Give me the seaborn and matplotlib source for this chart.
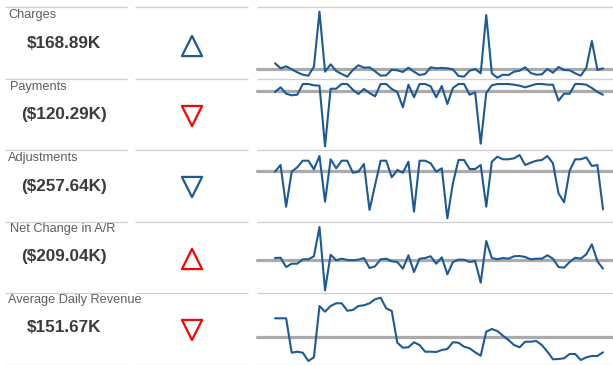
import matplotlib
matplotlib.use("Agg")
import matplotlib.pyplot as plt
import seaborn as sns
import numpy as np
import pandas as pd

# ---------------- data ----------------
metrics = ["Charges", "Payments", "Adjustments", "Net Change in A/R", "Average Daily Revenue"]
totals = ["$168.89K", "($120.29K)", "($257.64K)", "($209.04K)", "$151.67K"]
trend_dir = ["up", "down", "down", "up", "down"]
trend_good = [True, False, True, False, False]

days = list(range(60))

charges = [15.7, 10.7, 12.7, 9.7, 6.7, 4.3, 3.3, 12.3, 67.3, 7.3, 14.7, 8, 5, 2.3, 9, 13.7, 11.3, 11.7, 7.7, 3.3,
           3.7, 9.3, 8.7, 7, 11.3, 7.3, 4, 5, 11.7, 10.7, 11, 10.7, 9.7, 3, 2.3, 8.3, 10, 5.7, 64, 5.7,
           1.3, 4.3, 4, 7.3, 8.3, 11.7, 6, 4.3, 4.7, 10, 6.3, 12, 9, 8.7, 5.7, 3.3, 11.3, 38, 9, 10.7]
payments = [-13, -8.3, -14.7, -16.3, -15.7, -5, -5, -6.3, -6.7, -67.3, -9.7, -9.7, -5, -5, -10.7, -15, -10, -14, -17.3, -5,
            -5, -10, -13, -28.3, -5.7, -18.3, -5, -5, -7.3, -18.3, -7, -25, -9, -5, -5, -15.7, -13.3, -64.7, -14, -6.3,
            -5, -5, -5, -5.7, -6.7, -8.3, -6.7, -5, -5, -5.7, -5.7, -21.7, -14.7, -14.7, -5, -5, -5.7, -9, -13, -15.7]
adjustments = [-21.7, -15, -56.7, -21.7, -17.3, -10.7, -10.7, -19.3, -6, -51.7, -9.3, -18.3, -10.7, -10.7, -22.7, -21.7, -14, -60, -35, -10.7,
               -10.7, -27.3, -20, -22.7, -11.7, -61.7, -10.7, -10.7, -13.3, -21.7, -18.3, -68.3, -33.3, -10, -10, -19, -19, -15, -56.7, -11.7,
               -6.7, -9.3, -9.3, -8.3, -5, -15, -12.7, -10.7, -10, -6, -13.3, -43.3, -52.3, -20.7, -9.3, -9.3, -7.3, -16, -15, -59.3]
net_change = [35, 35.3, 26, 29.3, 29.3, 33.7, 33.7, 36.7, 66, 2.7, 38.3, 32.7, 34.3, 33, 32.7, 33.3, 35, 25, 26.7, 33.7,
              34.3, 31.7, 31, 24.3, 37.7, 21, 34.3, 35, 36.7, 29.3, 35.7, 18.7, 31, 33.3, 33.3, 31, 32, 10.3, 52, 35,
              33.7, 35, 34.3, 36.7, 37, 36, 33.7, 34.3, 34.3, 37.7, 34.3, 26, 25.3, 31, 35.3, 34.3, 38.7, 48.7, 31.7, 24.3]
daily_revenue = [46.7, 46.7, 46.7, 12.3, 13.3, 12.3, 4, 7.7, 59, 53.3, 59, 61.7, 61.7, 54.3, 55, 59, 59.7, 61.7, 65.7, 67.3,
                 56.7, 54, 22.3, 17.3, 17.7, 22.7, 20, 13.3, 13.3, 13, 15, 16, 22.7, 22.3, 18.3, 16.7, 12.7, 9.3, 33.3, 36,
                 34, 29.3, 25, 20, 17.7, 23.3, 23.3, 24, 20, 13.3, 5.7, 6, 6.7, 11, 11, 5, 7.7, 9, 9, 12.7]

series = [charges, payments, adjustments, net_change, daily_revenue]

# ---------------- layout / style ----------------
W, H = 613, 365
row_top = [7, 79, 150, 222, 293]
row_bot = [79, 150, 222, 293, 365]
spark_ylim = [(0, 72), (-71, 0), (-72, 0), (0, 71), (0, 72)]
label_x = [8, 10, 8, 10, 8]
label_dy = [8, 8, 8, 7, 7]
value_dy = [36, 35, 36, 35, 35]
tri_dy = [39, 37, 37, 37, 37]

BLUE = "#1b5a97"
RED = "#ff0000"
GRID = "#cfcfcf"
REF = "#ababab"

sns.set_style("white")
plt.rcParams["font.family"] = ["Liberation Sans", "DejaVu Sans"]

fig = plt.figure(figsize=(W / 100, H / 100), dpi=100)


def px_axes(x0, y0, x1, y1):
    return fig.add_axes([x0 / W, 1 - y1 / H, (x1 - x0) / W, (y1 - y0) / H])


# overlay axes in pixel coordinates
ov = px_axes(0, 0, W, H)
ov.set_xlim(0, W)
ov.set_ylim(H, 0)
ov.axis("off")

for yy in row_top + [364.5]:
    ov.plot([5, 127], [yy, yy], color=GRID, lw=0.9, solid_capstyle="butt")
    ov.plot([135, 248], [yy, yy], color=GRID, lw=0.9, solid_capstyle="butt")
    ov.plot([257, 613], [yy, yy], color=GRID, lw=0.9, solid_capstyle="butt")

for i, name in enumerate(metrics):
    ov.text(label_x[i], row_top[i] + label_dy[i], name, fontsize=9.2, color="#5e5e5e",
            ha="left", va="center")
    ov.text(64, row_top[i] + value_dy[i], totals[i], fontsize=12.3, fontweight="bold",
            color="#3b3b3b", ha="center", va="center")

tri_df = pd.DataFrame({
    "x": [192] * len(metrics),
    "y": [row_top[i] + tri_dy[i] for i in range(len(metrics))],
    "dir": trend_dir,
    "good": trend_good,
})
for d, mk in (("up", "^"), ("down", "v")):
    for g, col in ((True, BLUE), (False, RED)):
        sub = tri_df[(tri_df["dir"] == d) & (tri_df["good"] == g)]
        if len(sub):
            ov.scatter(sub["x"], sub["y"], marker=mk, s=14.5 ** 2, facecolors="none",
                       edgecolors=col, linewidths=1.6, zorder=5)

# sparklines
for i, vals in enumerate(series):
    ax = px_axes(257, row_top[i], 613, row_bot[i])
    df = pd.DataFrame({"day": days, "value": vals})
    ax.axhline(np.mean(vals), color=REF, lw=2.3, zorder=1)
    sns.lineplot(data=df, x="day", y="value", ax=ax, color=BLUE, lw=1.5, zorder=3)
    for ln in ax.lines:
        ln.set_clip_on(False)
    ax.set_xlim(-3.24, 60.8)
    ax.set_ylim(*spark_ylim[i])
    ax.axis("off")
    ax.patch.set_alpha(0)

fig.savefig("out.png", dpi=100)
